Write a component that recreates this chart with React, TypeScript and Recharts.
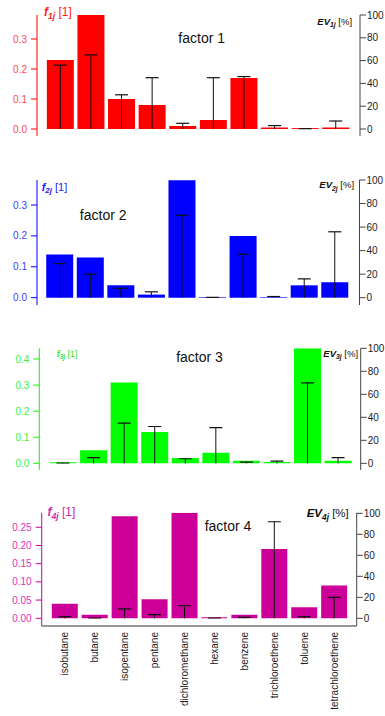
import React from 'react';
import { BarChart, Bar, XAxis, YAxis } from 'recharts';

const categories = ['isobutane', 'butane', 'isopentane', 'pentane', 'dichloromethane', 'hexane', 'benzene', 'trichloroethene', 'toluene', 'tetrachloroethene'];

const f1 = [0.23, 0.38, 0.10, 0.08, 0.01, 0.03, 0.17, 0.005, 0.003, 0.005];
const ev1 = [56, 65, 30, 45, 5, 45, 46, 3, 0.3, 7];

const f2 = [0.14, 0.13, 0.04, 0.01, 0.38, 0.002, 0.20, 0.002, 0.04, 0.05];
const ev2 = [29, 20, 8, 5, 70, 0.3, 37, 1, 16, 56];

const f3 = [0.004, 0.05, 0.31, 0.12, 0.02, 0.04, 0.01, 0.005, 0.441, 0.01];
const ev3 = [0.3, 5, 35, 32, 4, 31, 1, 2, 70, 5];

const f4 = [0.04, 0.01, 0.28, 0.052, 0.29, 0.003, 0.01, 0.19, 0.03, 0.09];
const ev4 = [1.6, 0.3, 9, 3.5, 12, 0.3, 1, 92, 1.6, 20];

const leftTicks1 = [0, 0.1, 0.2, 0.3];
const leftTicks2 = [0, 0.1, 0.2, 0.3];
const leftTicks3 = [0, 0.1, 0.2, 0.3, 0.4];
const leftTicks4 = [0, 0.05, 0.1, 0.15, 0.2, 0.25];
const rightTicks = [0, 20, 40, 60, 80, 100];
const boundaryTicks = [0, 1, 2, 3, 4, 5, 6, 7, 8, 9, 10];

const FONT = '"Liberation Sans", Arial, Helvetica, sans-serif';

const ErrShape = (p: any) => {
  const { x, y, width, height } = p;
  if (x == null || y == null) return null;
  const cx = x + width / 2;
  return (
    <g>
      <line x1={cx} x2={cx} y1={y + height} y2={y} stroke="#111" strokeWidth={1} />
      <line x1={cx - 6.5} x2={cx + 6.5} y1={y} y2={y} stroke="#111" strokeWidth={1.2} />
    </g>
  );
};

const RotTick = (p: any) => {
  const { x, y, payload } = p;
  return (
    <text
      x={x}
      y={y}
      transform={`rotate(-90, ${x}, ${y})`}
      textAnchor="end"
      dy="0.35em"
      fontSize={10}
      fontFamily={FONT}
      fill="#222"
    >
      {payload.value}
    </text>
  );
};

type Cfg = {
  top: number;
  height: number;
  margin: { top: number; right: number; bottom: number; left: number };
  leftWidth: number;
  rightWidth: number;
  leftDomain: [number, number];
  rightDomain: [number, number];
  leftTicks: number[];
  digits: number;
  padL: number;
  padR: number;
  color: string;
  textColor: string;
  showX: boolean;
  f: number[];
  ev: number[];
};

function Panel({ cfg }: { cfg: Cfg }) {
  const data = categories.map((c, i) => ({ name: c, f: cfg.f[i], ev: cfg.ev[i] }));
  const pad = { left: cfg.padL, right: cfg.padR };
  return (
    <div style={{ position: 'absolute', left: 0, top: cfg.top, width: 385, height: cfg.height }}>
      <BarChart
        width={385}
        height={cfg.height}
        data={data}
        margin={cfg.margin}
        barCategoryGap="6%"
        style={{ overflow: 'visible' }}
      >
        {cfg.showX && (
          <XAxis
            xAxisId="t"
            type="number"
            domain={[0, 10]}
            ticks={boundaryTicks}
            allowDataOverflow
            padding={pad}
            height={0}
            axisLine={false}
            tick={false}
            tickSize={8}
            tickLine={{ stroke: '#555' }}
          />
        )}
        <XAxis
          xAxisId="a"
          dataKey="name"
          type="category"
          hide={!cfg.showX}
          padding={pad}
          height={85}
          interval={0}
          tickLine={false}
          tickSize={0}
          tickMargin={6}
          axisLine={{ stroke: '#333' }}
          tick={<RotTick />}
        />
        <XAxis xAxisId="b" dataKey="name" type="category" hide padding={pad} />
        <YAxis
          yAxisId="l"
          orientation="left"
          width={cfg.leftWidth}
          domain={cfg.leftDomain}
          allowDataOverflow
          ticks={cfg.leftTicks}
          interval={0}
          tickFormatter={(v: number) => v.toFixed(cfg.digits)}
          axisLine={{ stroke: cfg.color }}
          tickLine={{ stroke: cfg.color }}
          tickSize={6}
          tickMargin={4}
          tick={{ fill: cfg.textColor, fontSize: 10, fontFamily: FONT }}
        />
        <YAxis
          yAxisId="r"
          orientation="right"
          width={cfg.rightWidth}
          domain={cfg.rightDomain}
          allowDataOverflow
          ticks={rightTicks}
          interval={0}
          axisLine={{ stroke: '#444' }}
          tickLine={{ stroke: '#444' }}
          tickSize={6}
          tickMargin={1}
          tick={{ fill: '#222', fontSize: 10, fontFamily: FONT }}
        />
        <Bar xAxisId="a" yAxisId="l" dataKey="f" fill={cfg.color} isAnimationActive={false} />
        <Bar xAxisId="b" yAxisId="r" dataKey="ev" fill="none" shape={<ErrShape />} isAnimationActive={false} />
      </BarChart>
    </div>
  );
}

const panels: Cfg[] = [
  {
    top: 0, height: 145, margin: { top: 15, right: 0, bottom: 9, left: 0 },
    leftWidth: 37, rightWidth: 25, leftDomain: [-0.0233, 0.38], rightDomain: [-6.14, 100],
    leftTicks: leftTicks1, digits: 1, padL: 8, padR: 9, color: '#ff0000', textColor: '#ff4a4a', showX: false, f: f1, ev: ev1,
  },
  {
    top: 165, height: 145, margin: { top: 15, right: 0, bottom: 5, left: 0 },
    leftWidth: 37, rightWidth: 25.5, leftDomain: [-0.0237, 0.381], rightDomain: [-6.2, 100],
    leftTicks: leftTicks2, digits: 1, padL: 7.4, padR: 9.5, color: '#0000ff', textColor: '#4040ff', showX: false, f: f2, ev: ev2,
  },
  {
    top: 333, height: 145, margin: { top: 15.3, right: 0, bottom: 8, left: 0 },
    leftWidth: 39.3, rightWidth: 24.3, leftDomain: [-0.0257, 0.441], rightDomain: [-5.8, 100],
    leftTicks: leftTicks3, digits: 1, padL: 8.4, padR: 7.4, color: '#00ff00', textColor: '#40f040', showX: false, f: f3, ev: ev3,
  },
  {
    top: 500, height: 216, margin: { top: 12.7, right: 0, bottom: 5, left: 0 },
    leftWidth: 41.7, rightWidth: 28.3, leftDomain: [-0.0212, 0.29], rightDomain: [-7.3, 100.6],
    leftTicks: leftTicks4, digits: 2, padL: 8.3, padR: 7.4, color: '#cc0099', textColor: '#dd33bb', showX: true, f: f4, ev: ev4,
  },
];

function FLabel({ x, y, n, size, color }: { x: number; y: number; n: number; size: number; color: string }) {
  return (
    <text x={x} y={y} fontSize={size} fontFamily={FONT} fill={color}>
      <tspan fontWeight="bold" fontStyle="italic">f</tspan>
      <tspan fontWeight="bold" fontStyle="italic" fontSize={size * 0.72} dy={size * 0.22}>{`${n}j`}</tspan>
      <tspan dy={-size * 0.22}>{' [1]'}</tspan>
    </text>
  );
}

function EVLabel({ x, y, n, size }: { x: number; y: number; n: number; size: number }) {
  return (
    <text x={x} y={y} fontSize={size} fontFamily={FONT} fill="#111">
      <tspan fontWeight="bold" fontStyle="italic">EV</tspan>
      <tspan fontWeight="bold" fontStyle="italic" fontSize={size * 0.72} dy={size * 0.25}>{`${n}j`}</tspan>
      <tspan dy={-size * 0.25}>{' [%]'}</tspan>
    </text>
  );
}

export default function App() {
  return (
    <div style={{ position: 'absolute', left: 0, top: 0, width: 385, height: 716, background: '#fff' }}>
      {panels.map((p, i) => (
        <Panel key={i} cfg={p} />
      ))}
      <svg width={385} height={716} style={{ position: 'absolute', left: 0, top: 0, pointerEvents: 'none' }}>
        <FLabel x={44} y={16} n={1} size={12} color="#ff2020" />
        <FLabel x={41.7} y={190.5} n={2} size={11} color="#2020ff" />
        <FLabel x={56.7} y={357} n={3} size={9} color="#30e030" />
        <FLabel x={47.5} y={516} n={4} size={12} color="#cc2aaa" />
        <EVLabel x={317.3} y={25} n={1} size={9.5} />
        <EVLabel x={319.3} y={188.3} n={2} size={9.5} />
        <EVLabel x={323.3} y={356.7} n={3} size={9.5} />
        <EVLabel x={306.7} y={517.3} n={4} size={11.5} />
        <text x={201.7} y={43} textAnchor="middle" fontSize={14} fontFamily={FONT} fill="#111">factor 1</text>
        <text x={103.2} y={220} textAnchor="middle" fontSize={14} fontFamily={FONT} fill="#111">factor 2</text>
        <text x={199.5} y={361.5} textAnchor="middle" fontSize={14} fontFamily={FONT} fill="#111">factor 3</text>
        <text x={228} y={530.5} textAnchor="middle" fontSize={14} fontFamily={FONT} fill="#111">factor 4</text>
      </svg>
    </div>
  );
}
